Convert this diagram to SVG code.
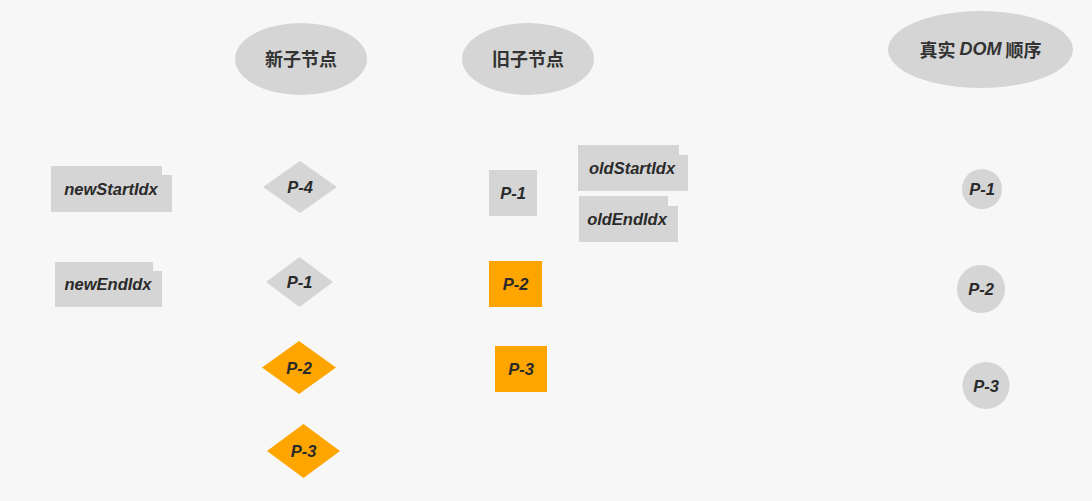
<svg xmlns="http://www.w3.org/2000/svg" width="1092" height="501" viewBox="0 0 1092 501">
<style>
.g{fill:#d5d5d5}
.o{fill:#ffa500}
.t{font-family:"Liberation Sans",Arial,sans-serif;font-style:italic;font-weight:bold;font-size:16.5px;fill:#2a2a2a;text-anchor:middle;dominant-baseline:central}
.h{font-family:"Noto Sans CJK SC","Liberation Sans",sans-serif;font-weight:bold;font-size:18px;fill:#333;text-anchor:middle;dominant-baseline:central}
</style>
<rect width="1092" height="501" fill="#f7f7f7"/>
<g id="head-new"><ellipse class="g" cx="301" cy="59" rx="66" ry="36"/><text class="h" x="301" y="58">新子节点</text></g>
<g id="head-old"><ellipse class="g" cx="528" cy="59" rx="66" ry="36"/><text class="h" x="528" y="58">旧子节点</text></g>
<g id="head-dom"><ellipse class="g" cx="980.5" cy="49.5" rx="92.5" ry="38.5"/><text class="h" x="980.5" y="49">真实 <tspan font-family="'Liberation Sans',sans-serif" font-style="italic">DOM</tspan> 顺序</text></g>
<g id="newStartIdx"><path class="g" d="M51 166H162V175H172V212H51Z"/><text class="t" x="111" y="189">newStartIdx</text></g>
<g id="newEndIdx"><path class="g" d="M55 262H153V271H162V307H55Z"/><text class="t" x="108" y="284">newEndIdx</text></g>
<g id="oldStartIdx"><path class="g" d="M578 145H679V155H688V191H578Z"/><text class="t" x="632" y="168">oldStartIdx</text></g>
<g id="oldEndIdx"><path class="g" d="M579 196H668V206H678V242H579Z"/><text class="t" x="627" y="219">oldEndIdx</text></g>
<g id="new-p4"><polygon class="g" points="263,187 300,161 337,187 300,213"/><text class="t" x="300" y="187">P-4</text></g>
<g id="new-p1"><polygon class="g" points="266,282 299.5,257 333,282 299.5,307"/><text class="t" x="299.5" y="282">P-1</text></g>
<g id="new-p2"><polygon class="o" points="262,367.5 299,341 336,367.5 299,394"/><text class="t" x="299" y="367.5">P-2</text></g>
<g id="new-p3"><polygon class="o" points="267,451 303.5,424 340,451 303.5,478"/><text class="t" x="303.5" y="451">P-3</text></g>
<g id="old-p1"><rect class="g" x="489" y="170" width="48" height="46"/><text class="t" x="513" y="193">P-1</text></g>
<g id="old-p2"><rect class="o" x="489" y="261" width="53" height="46"/><text class="t" x="515.5" y="284">P-2</text></g>
<g id="old-p3"><rect class="o" x="495" y="346" width="52" height="46"/><text class="t" x="521" y="369">P-3</text></g>
<g id="dom-p1"><circle class="g" cx="982" cy="189" r="20"/><text class="t" x="982" y="189">P-1</text></g>
<g id="dom-p2"><circle class="g" cx="981" cy="289" r="24"/><text class="t" x="981" y="289">P-2</text></g>
<g id="dom-p3"><circle class="g" cx="986" cy="385.5" r="23.5"/><text class="t" x="986" y="385.5">P-3</text></g>
<g id="connectors"></g>
</svg>
